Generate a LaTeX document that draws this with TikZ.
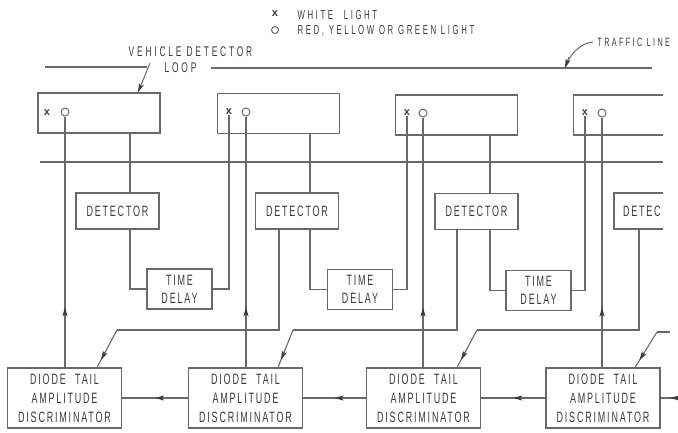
\documentclass[tikz,border=0pt]{standalone}
\usepackage{fontspec}
\setmainfont{Liberation Sans}
\newfontfamily\boxfont{Liberation Sans}[FakeStretch=0.6,LetterSpace=12]
\newfontfamily\lblfont{Liberation Sans}[FakeStretch=0.6,LetterSpace=20]
\usetikzlibrary{arrows.meta,calc}
\definecolor{linec}{RGB}{105,105,105}
\definecolor{textc}{RGB}{60,60,60}
\begin{document}
\begin{tikzpicture}[x=1pt,y=-1pt,line width=1.1pt,color=linec,
  every node/.style={text=textc},
  loopbox/.style={draw,minimum width=122pt,minimum height=40pt,inner sep=0pt},
  detbox/.style={draw,minimum width=83pt,minimum height=36pt,inner sep=0pt,font=\boxfont\fontsize{15}{16}\selectfont},
  tdbox/.style={draw,minimum width=65pt,minimum height=40pt,inner sep=0pt,align=center,font=\boxfont\fontsize{15}{18}\selectfont},
  disbox/.style={draw,minimum width=114pt,minimum height=60pt,inner sep=0pt,align=center,font=\boxfont\fontsize{15}{19}\selectfont},
  wmark/.style={font=\bfseries\fontsize{11}{11}\selectfont,inner sep=0pt},
  rmark/.style={draw,circle,minimum size=8pt,inner sep=0pt,line width=1pt},
  lbl/.style={font=\lblfont\fontsize{#1}{#1}\selectfont,inner sep=0pt},
  arr/.style={-{Stealth[length=9pt,width=5pt,inset=2pt,color=textc]}}
]
\useasboundingbox (0,0) rectangle (678,432);

% legend
\node[inner sep=0pt,font=\bfseries\fontsize{11}{11}\selectfont] (lx) at (275,14) {x};
\node[rmark,minimum size=7pt] (lo) at (275,30) {};
\node[lbl=13,anchor=west] (lt1) at (297,15) {WHITE\hspace{6pt} LIGHT};
\node[lbl=13,anchor=west] (lt2) at (297,31) {RED, YELLOW OR GREEN LIGHT};

% vehicle detector loop label and traffic lines
\node[lbl=14] (vd1) at (190.5,52) {VEHICLE DETECTOR};
\node[lbl=14] (vd2) at (180.5,68) {LOOP};
\node[lbl=12,anchor=west] (tlt) at (597,42) {TRAFFIC LINE};
\coordinate (tlA) at (45,67);
\coordinate (tlB) at (147,67);
\coordinate (tlC) at (211,68);
\coordinate (tlD) at (652,68);
\coordinate (tlP) at (565,68);
\coordinate (tlQ) at (569,57);
\coordinate (vdl) at (150,63);
\draw (tlA) -- (tlB);
\draw (tlC) -- (tlD);
\draw[line width=1pt] ([xshift=-4pt]tlt.west) .. controls (580,43) and (569,55) .. (tlP);
\draw[arr,line width=1pt] (tlQ) -- (tlP);

% second line
\coordinate (hA) at (40,162);
\coordinate (hB) at (663,162);
\draw (hA) -- (hB);

% loop boxes
\node[loopbox] (l1) at (99,113) {};
\node[loopbox] (l2) at (278.5,113.5) {};
\node[loopbox] (l3) at (456.5,115) {};
\draw[arr,line width=1pt] (vdl) -- ([xshift=39pt]l1.north);

% detectors
\node[detbox] (det1) at (117.5,211) {DETECTOR};
\node[detbox] (det2) at (297,211) {DETECTOR};
\node[detbox] (det3) at (476.5,211.5) {DETECTOR};

\begin{scope}
\clip (0,0) rectangle (663,432);
\node[loopbox] (l4) at (634.5,115) {};
\node[detbox] (det4) at (655.5,211) {};
\end{scope}
\node[inner sep=0pt,anchor=west,font=\boxfont\fontsize{15}{16}\selectfont] (det4t) at ([xshift=9pt]det4.west) {DETEC};

% marks
\node[wmark] (w1) at (47,113) {x};
\node[wmark] (w2) at (229,112) {x};
\node[wmark] (w3) at (407,113) {x};
\node[wmark] (w4) at (585,113) {x};
\node[rmark] (r1) at (65,112) {};
\node[rmark] (r2) at (246,112) {};
\node[rmark] (r3) at (423,113) {};
\node[rmark] (r4) at (602,113) {};

% time delays
\node[tdbox] (td1) at (179.5,289) {TIME\\DELAY};
\node[tdbox] (td2) at (360,289.5) {TIME\\DELAY};
\node[tdbox] (td3) at (538.5,290.5) {TIME\\DELAY};

% discriminators
\node[disbox] (dis1) at (64.5,398) {DIODE\hspace{5pt} TAIL\\AMPLITUDE\\DISCRIMINATOR};
\node[disbox] (dis2) at (245.5,398) {DIODE\hspace{5pt} TAIL\\AMPLITUDE\\DISCRIMINATOR};
\node[disbox] (dis3) at (423.5,398) {DIODE\hspace{5pt} TAIL\\AMPLITUDE\\DISCRIMINATOR};
\node[disbox] (dis4) at (603,398) {DIODE\hspace{5pt} TAIL\\AMPLITUDE\\DISCRIMINATOR};

% column coordinates
\coordinate (p1) at (130,0);
\coordinate (p2) at (310,0);
\coordinate (p3) at (490,0);
\coordinate (q2) at (279,0);
\coordinate (q3) at (457,0);
\coordinate (q4) at (639,0);
\coordinate (k1) at (117,330);
\coordinate (k2) at (293,330);
\coordinate (k3) at (477,330);
\coordinate (k4) at (657,332);
\coordinate (k4e) at (670,332);
\coordinate (edge) at (678,398);

% discriminator -> red/yellow/green light
\foreach \i in {1,2,3,4}{
  \coordinate (ub\i) at (r\i.south |- dis\i.north);
  \coordinate (ut\i) at ($(ub\i)!0.24!(r\i.south)$);
  \draw (ub\i) -- (r\i.south);
  \draw[arr] ($(ut\i)!10pt!(ub\i)$) -- (ut\i);
}
% loop -> detector -> time delay -> next white light
\foreach \i/\j in {1/2,2/3,3/4}{
  \draw (l\i.south -| p\i) -- (det\i.north -| p\i);
  \draw (det\i.south -| p\i) |- (td\i.west);
  \draw (td\i.east) -| (w\j.south);
}
% next detector -> discriminator
\draw (det2.south -| q2) |- (k1);
\draw (det3.south -| q3) |- (k2);
\draw (det4.south -| q4) |- (k3);
\draw (k4e) -- (k4);
\coordinate (de1) at ([xshift=32.5pt]dis1.north);
\coordinate (de2) at ([xshift=32.5pt]dis2.north);
\coordinate (de3) at ([xshift=33.5pt]dis3.north);
\coordinate (de4) at ([xshift=32pt]dis4.north);
\foreach \i in {1,2,3,4}{
  \coordinate (dt\i) at ($(k\i)!0.8!(de\i)$);
  \draw (k\i) -- (de\i);
  \draw[arr] ($(dt\i)!10pt!(k\i)$) -- (dt\i);
}

% discriminator chain
\coordinate (e1) at (dis2.west);
\coordinate (e2) at (dis3.west);
\coordinate (e3) at (dis4.west);
\coordinate (e4) at (edge);
\coordinate (f1) at (dis1.east);
\coordinate (f2) at (dis2.east);
\coordinate (f3) at (dis3.east);
\coordinate (f4) at (dis4.east);
\foreach \i/\f in {1/0.5,2/0.5,3/0.5,4/0.45}{
  \coordinate (ct\i) at ($(e\i)!\f!(f\i)$);
  \draw (e\i) -- (f\i);
  \draw[arr] ($(ct\i)!7pt!(e\i)$) -- (ct\i);
}
\end{tikzpicture}
\end{document}
